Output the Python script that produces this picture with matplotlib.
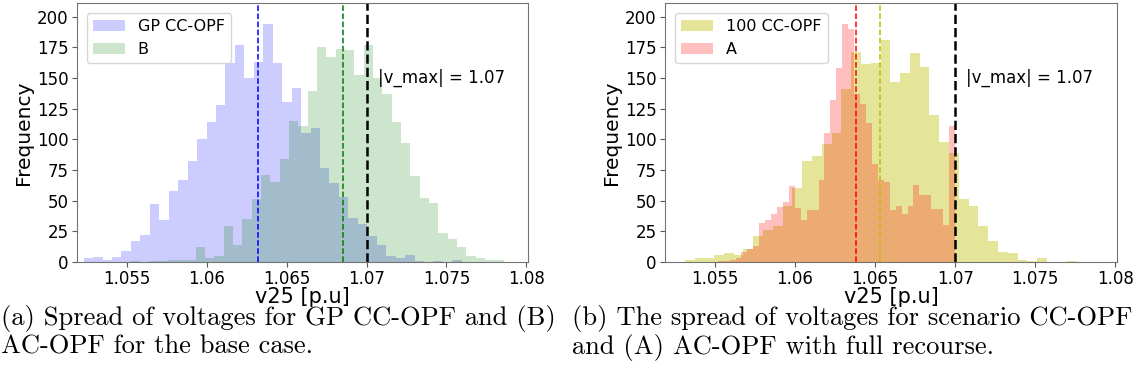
import numpy as np
import matplotlib
matplotlib.use('Agg')
import matplotlib.pyplot as plt

# bin ranges (40 bins each) and counts
gp_range = (1.05231, 1.07596)
gp_counts = [3, 4, 2, 4, 9, 17, 22, 47, 34, 58, 67, 82, 100, 114, 128, 162, 177, 150, 163, 194,
             162, 130, 142, 105, 109, 77, 64, 53, 36, 31, 21, 14, 5, 3, 6, 1, 0, 1, 0, 2]
b_range = (1.05523, 1.07858)
b_counts = [1, 0, 1, 1, 2, 2, 2, 12, 3, 5, 29, 14, 35, 51, 71, 65, 84, 115, 111, 139,
            175, 167, 174, 173, 152, 177, 150, 137, 114, 97, 70, 52, 48, 24, 19, 12, 5, 3, 2, 2]
sc_range = (1.05313, 1.07756)
sc_counts = [2, 3, 3, 6, 7, 6, 11, 21, 26, 29, 46, 60, 82, 86, 96, 105, 141, 171, 161, 162,
             181, 147, 154, 170, 159, 120, 98, 89, 51, 46, 29, 17, 8, 7, 2, 1, 3, 0, 0, 1]
a_range = (1.05519, 1.06999)
a_counts = [1, 1, 2, 3, 8, 11, 13, 32, 34, 39, 45, 49, 62, 44, 34, 42, 42, 67, 105, 132,
            158, 194, 190, 137, 129, 113, 80, 67, 65, 42, 46, 39, 46, 63, 55, 55, 43, 43, 30, 111]

means_a = [1.06324, 1.06853]   # GP CC-OPF, B
means_b = [1.06531, 1.06382]   # 100 CC-OPF, A
v_max = 1.07

xticks = [1.055, 1.06, 1.065, 1.07, 1.075, 1.08]
xtick_labels = ['1.055', '1.06', '1.065', '1.07', '1.075', '1.08']
yticks = [0, 25, 50, 75, 100, 125, 150, 175, 200]

caption_a = ['(a) Spread of voltages for GP CC-OPF and (B)', 'AC-OPF for the base case.']
caption_b = ['(b) The spread of voltages for scenario CC-OPF', 'and (A) AC-OPF with full recourse.']


def draw_hist(ax, rng, counts, **kw):
    edges = np.linspace(rng[0], rng[1], len(counts) + 1)
    ax.hist(edges[:-1], bins=edges, weights=counts, **kw)


def style_axes(ax):
    ax.set_xlim(1.0519, 1.0801)
    ax.set_ylim(0, 211)
    ax.set_xticks(xticks)
    ax.set_xticklabels(xtick_labels)
    ax.set_yticks(yticks)
    ax.tick_params(labelsize=12, color='0.35', pad=2.5)
    for s in ax.spines.values():
        s.set_color('0.45')
    ax.set_xlabel('v25 [p.u]', fontsize=15, labelpad=-1)
    ax.set_ylabel('Frequency', fontsize=14.5, labelpad=3)
    ax.axvline(v_max, color='k', linestyle='--', linewidth=1.8)
    ax.text(1.0707, 150, '|v_max| = 1.07', fontsize=12, va='center')
    ax.legend(loc='upper left', fontsize=11.5, borderaxespad=0.6)


fig = plt.figure(figsize=(11.43, 3.83), dpi=100)
ax1 = fig.add_axes([0.0674, 0.3159, 0.3946, 0.676])
ax2 = fig.add_axes([0.5818, 0.3159, 0.3955, 0.676])

draw_hist(ax1, gp_range, gp_counts, color='b', alpha=0.2, label='GP CC-OPF')
draw_hist(ax1, b_range, b_counts, color='g', alpha=0.2, label='B')
ax1.axvline(means_a[0], color='b', linestyle='--', linewidth=1.1)
ax1.axvline(means_a[1], color='g', linestyle='--', linewidth=1.1)
style_axes(ax1)

draw_hist(ax2, sc_range, sc_counts, color='y', alpha=0.4, label='100 CC-OPF')
draw_hist(ax2, a_range, a_counts, color='r', alpha=0.25, label='A')
ax2.axvline(means_b[0], color='y', linestyle='--', linewidth=1.1)
ax2.axvline(means_b[1], color='r', linestyle='--', linewidth=1.1)
style_axes(ax2)

for x0, lines in [(0.001, caption_a), (0.5005, caption_b)]:
    for i, line in enumerate(lines):
        fig.text(x0, 1 - (325 + 29 * i) / 383, line, family='cmr10', fontsize=19.1,
                 va='baseline', ha='left')

plt.savefig('out.png', dpi=100)
plt.close()
